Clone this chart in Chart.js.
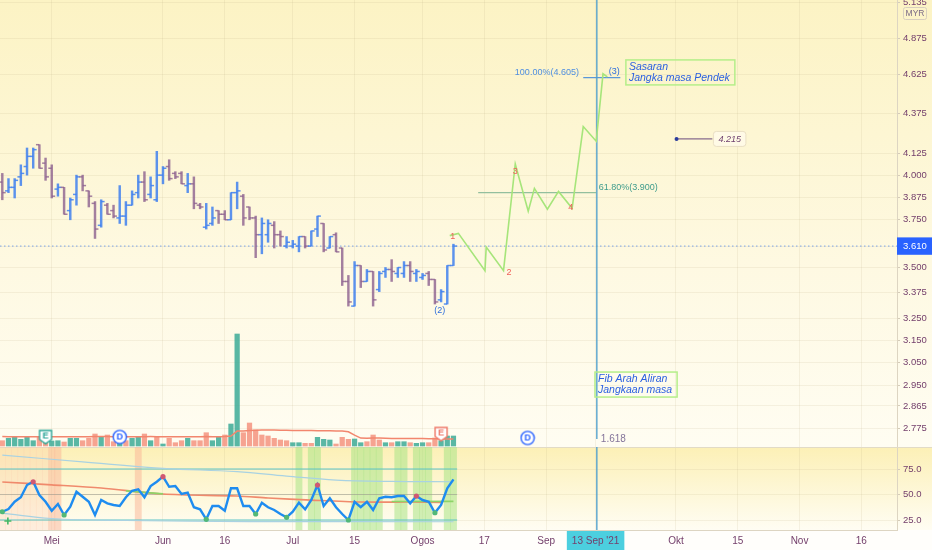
<!DOCTYPE html>
<html><head><meta charset="utf-8">
<script src="https://cdn.jsdelivr.net/npm/chart.js@4/dist/chart.umd.min.js"></script>
<style>html,body{margin:0;padding:0;background:#fff;overflow:hidden}#wrap{width:932px;height:550px}</style>
</head><body><div id="wrap"><canvas id="c" width="932" height="550"></canvas></div>
<script>
// ---------- DATA ----------
const tickIdx = [8, 26, 36, 47, 57, 68, 78, 88, 96, 109, 119, 129, 139];
const tickLabels = ['Mei', 'Jun', '16', 'Jul', '15', 'Ogos', '17', 'Sep', "13 Sep '21", 'Okt', '15', 'Nov', '16'];
const priceTicks = [5.135, 4.875, 4.625, 4.375, 4.125, 4.000, 3.875, 3.750, 3.610, 3.500, 3.375, 3.250, 3.150, 3.050, 2.950, 2.865, 2.775];
const rsiTicks = [25, 50, 75];
const lastPrice = 3.61;

const opens = [3.96,3.91,3.93,3.99,4.05,4.11,4.18,4.07,4.04,3.92,
  3.93,3.80,3.89,3.99,3.91,3.84,3.72,3.83,3.80,3.76,
  3.77,3.83,3.90,3.96,3.89,3.86,4.00,4.05,4.01,4.01,
  3.94,3.95,3.83,3.71,3.73,3.80,3.78,3.75,3.90,3.88,
  3.82,3.76,3.67,3.67,3.72,3.67,3.61,3.61,3.61,3.66,
  3.61,3.70,3.73,3.60,3.67,3.60,3.43,3.31,3.51,3.43,
  3.48,3.39,3.48,3.49,3.47,3.47,3.51,3.47,3.45,3.47,
  3.44,3.34,3.32,3.51];
const highs = [4.01,3.98,3.98,4.06,4.16,4.16,4.18,4.10,4.06,3.95,
  3.93,3.87,4.00,4.00,3.91,3.85,3.86,3.84,3.83,3.94,
  3.85,3.91,4.00,4.02,3.99,4.14,4.05,4.09,4.02,4.02,
  4.01,3.99,3.84,3.84,3.82,3.80,3.80,3.90,3.96,3.89,
  3.82,3.77,3.76,3.75,3.74,3.69,3.66,3.64,3.66,3.66,
  3.69,3.77,3.73,3.66,3.68,3.60,3.46,3.53,3.51,3.49,
  3.48,3.48,3.50,3.54,3.50,3.53,3.53,3.49,3.47,3.48,
  3.44,3.39,3.51,3.62];
const lows = [3.86,3.90,3.87,3.94,4.00,4.04,4.04,3.97,3.87,3.88,
  3.78,3.75,3.83,3.91,3.82,3.65,3.71,3.78,3.76,3.73,
  3.72,3.83,3.87,3.85,3.87,3.85,3.95,3.97,3.98,3.95,
  3.90,3.81,3.81,3.70,3.72,3.73,3.75,3.75,3.81,3.72,
  3.75,3.55,3.57,3.63,3.60,3.61,3.60,3.60,3.58,3.60,
  3.61,3.66,3.58,3.60,3.58,3.41,3.31,3.31,3.40,3.43,
  3.31,3.38,3.45,3.43,3.45,3.45,3.43,3.43,3.44,3.41,
  3.32,3.33,3.32,3.51];
const closes = [3.90,3.93,3.97,4.01,4.11,4.15,4.04,3.99,3.88,3.93,
  3.78,3.86,3.99,3.94,3.88,3.70,3.85,3.78,3.77,3.77,
  3.83,3.89,3.96,3.86,3.94,4.00,4.04,3.98,3.99,3.95,
  3.95,3.84,3.82,3.72,3.76,3.78,3.75,3.90,3.91,3.76,
  3.76,3.67,3.73,3.73,3.67,3.66,3.63,3.62,3.66,3.61,
  3.69,3.77,3.59,3.66,3.58,3.43,3.33,3.51,3.43,3.48,
  3.34,3.47,3.49,3.48,3.50,3.51,3.48,3.48,3.46,3.44,
  3.33,3.38,3.51,3.61];

const volumes = [530,770,870,670,870,530,930,600,500,530,
  400,770,770,530,770,1200,870,1100,430,500,
  530,770,870,1200,530,930,200,770,330,530,
  770,530,530,1330,530,870,1100,2200,11200,1330,
  2300,1600,1100,1000,770,600,530,330,330,270,
  270,870,670,600,200,870,670,700,330,430,
  1100,600,330,330,430,430,330,270,330,330,
  800,530,1000,1000];
const volUp = [0,1,1,1,1,1,0,0,1,1,
  0,1,1,0,0,0,1,0,0,1,
  0,1,1,0,1,0,1,0,0,0,
  1,0,0,0,1,1,0,1,1,0,
  0,0,0,0,0,0,0,1,1,0,
  0,1,1,1,0,0,0,1,1,0,
  0,0,1,0,1,1,0,1,1,0,
  0,1,1,1];
const volMA = [940,935,930,930,925,930,935,930,925,920,
  925,930,930,935,930,940,945,940,935,930,
  930,925,930,935,940,935,930,925,920,925,
  930,935,930,940,935,930,945,1000,1490,1500,
  1560,1580,1590,1590,1590,1580,1570,1560,1550,1540,
  1540,1530,1520,1520,1510,1500,1420,1080,790,780,
  800,790,770,760,760,750,750,740,740,730,
  720,700,690,700];

const rsi = [33.1,35.8,42.9,47.3,59.3,62.5,49.5,42.9,34.1,40.7,
  29.9,38.0,52.7,47.8,42.9,29.9,44.6,41.4,39.7,38.7,
  47.3,53.7,55.1,47.3,58.3,62.5,67.5,57.6,58.3,50.5,
  51.8,37.5,35.5,25.7,38.7,38.7,34.1,56.1,56.1,38.7,
  38.7,30.9,42.0,37.5,34.8,30.9,27.6,33.1,42.0,35.5,
  44.6,59.3,38.7,46.3,37.5,30.9,25.0,42.9,37.5,42.9,
  34.8,46.3,47.8,47.3,48.5,48.5,41.4,48.5,44.6,42.9,
  32.1,39.7,56.1,64.9];
const rsiPeaks = [5, 26, 51, 67];
const rsiTroughs = [0, 10, 33, 41, 46, 56, 70];
const rsiMAk = [0, 8, 16, 26, 38, 43, 50, 58, 66, 71];
const rsiMAv = [62.3, 59.5, 56.4, 50.5, 48.5, 46.6, 44.5, 42.6, 42.6, 42.3];
const rsiMAupK = [20, 26];
const rsiMAupV = [53.6, 50.6];
const rsiMAup2K = [63, 73];
const rsiMAup2V = [43.1, 43.3];
const bandUpK = [0, 13, 26, 38, 46, 54, 63, 73];
const bandUpV = [88.7, 82.0, 75.7, 72.4, 68.0, 64.2, 62.8, 62.5];
const bandLoK = [0, 8, 20, 40, 73];
const bandLoV = [31.8, 26.5, 24.5, 23.5, 23.3];
const paleZones = [0, 1, 2, 3, 4, 5, 6, 7];
const orangeZones = [8, 9, 22];
const greenZones = [48, 50, 51, 57, 58, 59, 60, 61, 64, 65, 67, 68, 69, 72, 73];

const waveK = [72.4, 73.8, 78.1, 78.3, 81.1, 83.0, 85.1, 86.1, 88.2, 90.0, 92.2, 94.0, 96.1, 97.2, 97.9];
const waveP = [3.665, 3.677, 3.484, 3.605, 3.484, 4.065, 3.797, 3.924, 3.808, 3.907, 3.813, 4.291, 4.201, 4.631, 4.610];
const waveLabelText = ['1', '2', '3', '4', '(2)', '(3)'];
const waveLabelK = [72.9, 82.0, 83.0, 92.0, 70.8, 99.0];
const waveLabelP = [3.660, 3.477, 4.019, 3.819, 3.290, 4.645];

const fibRatios = ['100.00%', '61.80%'];
const fibPrices = [4.605, 3.900];
const fibFromK = [94.0, 77.0];
const fibToK = [100.0, 96.1];
const fibLabelK = [93.3, 96.5];
const fibTimeK = 96.2;
const fibTimeLabel = '1.618';

const targetPrice = 4.215;
const targetK = [109.1, 114.9];

const noteLines = [['Sasaran', 'Jangka masa Pendek'], ['Fib Arah Aliran', 'Jangkaan masa']];
const noteK = [100.9, 95.9];
const noteP = [4.725, 3.009];

const eventType = ['E', 'D', 'E', 'D'];
const eventK = [7, 19, 71, 85];
const eventColor = ['#2aa597', '#2962ff', '#ee7766', '#2962ff'];

// ---------- SCALE FRAME ----------
const X_MIN = -0.372, X_MAX = 144.77;
const P_MIN = 2.7318, P_MAX = 5.1525;
const R_MIN = 15.2, R_MAX = 96.6;
const V_MIN = -8400, V_MAX = 44600;
const eventLevel = [900, 900, 1200, 800];

const FONT = '"Liberation Sans", Arial, sans-serif';
Chart.defaults.font.family = FONT;
const TXT = '#74406c';
const upColor = 'rgba(64,128,238,0.85)', dnColor = 'rgba(140,96,142,0.8)';
const ix = closes.map((_, i) => i);
const barCol = ix.map(i => closes[i] >= opens[i] ? upColor : dnColor);

function icon(letter, color) {
  const c = document.createElement('canvas'); c.width = 16; c.height = 17;
  const g = c.getContext('2d');
  g.fillStyle = '#ffffff'; g.strokeStyle = color; g.lineWidth = 1.4;
  g.beginPath();
  if (letter === 'D') g.arc(8, 8.5, 6.6, 0, Math.PI * 2);
  else { g.moveTo(2, 2); g.lineTo(14, 2); g.lineTo(14, 11); g.lineTo(8, 15.3); g.lineTo(2, 11); g.closePath(); }
  g.fill(); g.stroke();
  g.fillStyle = color; g.font = 'bold 9px ' + FONT; g.textAlign = 'center'; g.textBaseline = 'middle';
  g.fillText(letter, 8, letter === 'D' ? 9 : 8);
  return c;
}
const eventIcons = eventType.map((t, i) => icon(t, eventColor[i]));

const line = (data, color, width, axis, order, extra) => Object.assign({
  type: 'line', yAxisID: axis, data, borderColor: color, borderWidth: width,
  pointRadius: 0, fill: false, tension: 0, order
}, extra || {});
const pts = (ks, vs) => ks.map((k, i) => ({x: k, y: vs[i]}));
const zone = (list, color) => ({
  type: 'bar', yAxisID: 'yr', data: list.map(k => ({x: k, y: [R_MIN, R_MAX]})),
  backgroundColor: color, barThickness: 6.2, grouped: false, borderWidth: 0, order: 100
});

const datasets = [
  zone(paleZones, 'rgba(250,196,170,0.28)'),
  zone(orangeZones, 'rgba(250,180,150,0.5)'),
  zone(greenZones, 'rgba(170,228,135,0.55)'),
  // volume
  {type: 'bar', yAxisID: 'yv', data: ix.map(i => ({x: i, y: volumes[i]})),
   backgroundColor: ix.map(i => volUp[i] ? 'rgba(60,170,150,0.85)' : 'rgba(244,140,120,0.8)'),
   barThickness: 4.6, grouped: false, borderWidth: 0, order: 90},
  line(ix.map(i => ({x: i, y: volMA[i]})), '#f2866e', 1.5, 'yv', 85),
  // last price dotted
  line([{x: X_MIN, y: lastPrice}, {x: X_MAX, y: lastPrice}], 'rgba(70,130,240,0.7)', 1, 'y', 40, {borderDash: [1.5, 2.5]}),
  // OHLC
  {type: 'bar', yAxisID: 'y', data: ix.map(i => ({x: i, y: [lows[i], highs[i]]})),
   backgroundColor: barCol, barThickness: 1.8, grouped: false, borderWidth: 0, order: 20},
  {type: 'scatter', yAxisID: 'y', data: ix.map(i => ({x: i - 0.28, y: opens[i]})),
   pointStyle: 'line', pointRadius: 1.7, pointBorderWidth: 1.5, pointBorderColor: barCol, borderColor: barCol, order: 19},
  {type: 'scatter', yAxisID: 'y', data: ix.map(i => ({x: i + 0.28, y: closes[i]})),
   pointStyle: 'line', pointRadius: 1.7, pointBorderWidth: 1.5, pointBorderColor: barCol, borderColor: barCol, order: 19},
  // fib
  line([{x: fibFromK[1], y: fibPrices[1]}, {x: fibToK[1], y: fibPrices[1]}], '#93bf9e', 1.3, 'y', 30),
  line([{x: fibFromK[0], y: fibPrices[0]}, {x: fibToK[0], y: fibPrices[0]}], '#5b98d8', 1.3, 'y', 30),
  line([{x: fibTimeK, y: P_MIN}, {x: fibTimeK, y: P_MAX}], 'rgba(80,160,205,0.9)', 1.5, 'y', 8),
  line([{x: fibTimeK, y: R_MIN}, {x: fibTimeK, y: R_MAX}], 'rgba(80,160,205,0.9)', 1.5, 'yr', 8),
  // wave projection
  line(pts(waveK, waveP), '#a6e57a', 1.6, 'y', 6),
  // target level
  line([{x: targetK[0], y: targetPrice}, {x: targetK[1], y: targetPrice}], '#6a4a7c', 1, 'y', 6,
       {pointRadius: [2, 0], pointBackgroundColor: '#2b3c9c', pointBorderWidth: 0}),
  // RSI panel
  line([{x: X_MIN, y: 75}, {x: 73.6, y: 75}], '#5cc4c6', 1, 'yr', 60),
  line([{x: X_MIN, y: 25}, {x: 73.6, y: 25}], '#5cc4c6', 1, 'yr', 60),
  line([{x: X_MIN, y: 50}, {x: 73.6, y: 50}], 'rgba(150,150,140,0.55)', 1, 'yr', 60),
  line(pts(bandUpK, bandUpV), '#a9d2e2', 1.2, 'yr', 55, {tension: 0.4}),
  line(pts(bandLoK, bandLoV), '#a9d2e2', 1.2, 'yr', 55, {tension: 0.4}),
  line(pts(rsiMAk, rsiMAv), '#f08a6c', 1.6, 'yr', 50, {tension: 0.3}),
  line(pts(rsiMAupK, rsiMAupV), '#8ed468', 1.6, 'yr', 49),
  line(pts(rsiMAup2K, rsiMAup2V), '#8ed468', 1.6, 'yr', 49),
  line(ix.map(i => ({x: i, y: rsi[i]})), '#1e8cf0', 2.4, 'yr', 10),
  {type: 'scatter', yAxisID: 'yr', data: rsiPeaks.map(k => ({x: k, y: rsi[k]})),
   pointRadius: 2.6, pointBackgroundColor: '#d05872', pointBorderWidth: 0, order: 5},
  {type: 'scatter', yAxisID: 'yr', data: rsiTroughs.map(k => ({x: k, y: rsi[k]})),
   pointRadius: 2.6, pointBackgroundColor: '#52b878', pointBorderWidth: 0, order: 5},
  {type: 'scatter', yAxisID: 'yr', data: [{x: 0.9, y: 24}], pointStyle: 'cross',
   pointRadius: 3.5, pointBorderColor: '#44b866', pointBorderWidth: 1.6, order: 5},
  // events
  {type: 'scatter', yAxisID: 'yv', data: eventK.map((k, i) => ({x: k, y: eventLevel[i]})),
   pointStyle: eventIcons, pointRadius: 8, order: 1}
];

// ---------- PLUGINS ----------
const bgPlugin = {
  id: 'bg',
  beforeDraw(chart) {
    const {ctx, width, height} = chart;
    const yP = chart.scales.y, yR = chart.scales.yr;
    ctx.save();
    let g = ctx.createLinearGradient(0, yP.top, 0, yP.bottom);
    g.addColorStop(0, '#fcf3c4'); g.addColorStop(0.6, '#fef9e2'); g.addColorStop(1, '#fffdf2');
    ctx.fillStyle = g; ctx.fillRect(0, 0, width, yP.bottom);
    g = ctx.createLinearGradient(0, yR.top, 0, yR.bottom);
    g.addColorStop(0, '#fcf0b6'); g.addColorStop(1, '#fffdf3');
    ctx.fillStyle = g; ctx.fillRect(0, yR.top, width, yR.bottom - yR.top);
    ctx.fillStyle = '#fffefb'; ctx.fillRect(0, yR.bottom, width, height - yR.bottom);
    ctx.restore();
  },
  beforeDatasetsDraw(chart) {
    const {ctx, width} = chart; const yP = chart.scales.y;
    ctx.save(); ctx.strokeStyle = '#e2dbc6'; ctx.lineWidth = 1;
    ctx.beginPath(); ctx.moveTo(0, Math.round(yP.bottom) + 0.5); ctx.lineTo(width, Math.round(yP.bottom) + 0.5); ctx.stroke();
    ctx.restore();
  }
};

const annotate = {
  id: 'annotate',
  afterDatasetsDraw(chart) {
    const {ctx} = chart; const sx = chart.scales.x, sy = chart.scales.y;
    const X = k => sx.getPixelForValue(k), Y = p => sy.getPixelForValue(p);
    ctx.save();
    ctx.textBaseline = 'middle';
    ctx.textAlign = 'center';
    ctx.font = '9px ' + FONT;
    waveLabelText.forEach((t, i) => {
      ctx.fillStyle = t.startsWith('(') ? '#2f6fdc' : '#f0605a';
      ctx.fillText(t, X(waveLabelK[i]), Y(waveLabelP[i]));
    });
    ctx.textAlign = 'right'; ctx.fillStyle = '#4f8fe0';
    ctx.fillText(fibRatios[0] + '(' + fibPrices[0].toFixed(3) + ')', X(fibLabelK[0]), Y(fibPrices[0]) - 5);
    ctx.textAlign = 'left'; ctx.fillStyle = '#3f9c8c';
    ctx.fillText(fibRatios[1] + '(' + fibPrices[1].toFixed(3) + ')', X(fibLabelK[1]), Y(fibPrices[1]) - 5);
    ctx.fillStyle = '#84749a'; ctx.font = '10px ' + FONT;
    ctx.fillText(fibTimeLabel, X(fibTimeK) + 4, sy.bottom - 8);
    // notes
    noteLines.forEach((lines, n) => {
      const x0 = X(noteK[n]), y0 = Y(noteP[n]);
      ctx.font = 'italic 10.5px ' + FONT;
      const w = Math.max(...lines.map(l => ctx.measureText(l).width)) + 8;
      const h = lines.length * 11 + 3;
      ctx.strokeStyle = '#b5ee8a'; ctx.lineWidth = 1.5; ctx.strokeRect(x0, y0, w, h);
      ctx.fillStyle = '#2a5fe0'; ctx.textAlign = 'left';
      lines.forEach((l, i) => ctx.fillText(l, x0 + 3, y0 + 7.5 + i * 11));
    });
    // target label
    ctx.font = 'italic 9px ' + FONT;
    const tt = targetPrice.toFixed(3);
    const tw = ctx.measureText(tt).width + 10;
    const tx = X(targetK[1]) + 1, ty = Y(targetPrice);
    ctx.fillStyle = '#fffae6'; ctx.strokeStyle = '#eadfc4'; ctx.lineWidth = 1;
    ctx.beginPath(); ctx.roundRect(tx, ty - 7.5, tw, 15, 3); ctx.fill(); ctx.stroke();
    ctx.fillStyle = '#6e3f6e'; ctx.textAlign = 'left';
    ctx.fillText(tt, tx + 5, ty + 0.5);
    ctx.restore();
  },
  afterDraw(chart) {
    const {ctx} = chart; const sx = chart.scales.x;
    ctx.save();
    const x0 = sx.right + 6, y0 = 7;
    ctx.fillStyle = '#fcf4c8'; ctx.strokeStyle = '#d8cfbe'; ctx.lineWidth = 1;
    ctx.beginPath(); ctx.roundRect(x0 + 0.5, y0 + 0.5, 23, 12, 2); ctx.fill(); ctx.stroke();
    ctx.fillStyle = '#7a6a85'; ctx.font = '8.5px ' + FONT; ctx.textAlign = 'center'; ctx.textBaseline = 'middle';
    ctx.fillText('MYR', x0 + 12, y0 + 7);
    ctx.restore();
  }
};

const zeroPad = s => { s.paddingTop = 0; s.paddingBottom = 0; s.paddingLeft = 0; s.paddingRight = 0; };
const GRID = 'rgba(185,172,130,0.14)';

new Chart(document.getElementById('c'), {
  type: 'line',
  data: {datasets},
  plugins: [bgPlugin, annotate],
  options: {
    responsive: false, animation: false, events: [],
    layout: {padding: 0, autoPadding: false},
    plugins: {legend: {display: false}, tooltip: {enabled: false}},
    scales: {
      x: {
        type: 'linear', position: 'bottom', min: X_MIN, max: X_MAX, offset: false,
        grid: {color: GRID, offset: false, drawTicks: false},
        border: {color: '#ddd5c2'},
        afterBuildTicks: s => { s.ticks = tickIdx.map(v => ({value: v})); },
        afterFit: s => { s.height = 20; zeroPad(s); },
        ticks: {
          autoSkip: false, maxRotation: 0, padding: 5, color: TXT, font: {size: 10},
          callback: (v, i) => tickLabels[i],
          showLabelBackdrop: c => tickLabels[c.index] === "13 Sep '21",
          backdropColor: '#4ccfdf',
          backdropPadding: {left: 5, right: 5, top: 4, bottom: 6}
        }
      },
      y: {
        type: 'logarithmic', position: 'right', stack: 'r', stackWeight: 447,
        min: P_MIN, max: P_MAX, beginAtZero: false,
        grid: {color: GRID, tickLength: 3, tickColor: '#d5ccb8'},
        border: {color: '#ddd5c2'},
        afterBuildTicks: s => { s.ticks = priceTicks.map(v => ({value: v})); },
        afterFit: s => { s.width = 35; zeroPad(s); },
        ticks: {
          autoSkip: false, padding: 3, font: {size: 9.5},
          color: c => (c.tick && c.tick.value === lastPrice) ? '#ffffff' : TXT,
          callback: v => Number(v).toFixed(3),
          showLabelBackdrop: c => !!(c.tick && c.tick.value === lastPrice),
          backdropColor: '#2962ff',
          backdropPadding: {left: 6, right: 8, top: 3, bottom: 3}
        }
      },
      yr: {
        type: 'linear', position: 'right', stack: 'r', stackWeight: 83,
        min: R_MIN, max: R_MAX, beginAtZero: false,
        grid: {color: GRID, tickLength: 3, tickColor: '#d5ccb8'},
        border: {color: '#ddd5c2'},
        afterBuildTicks: s => { s.ticks = rsiTicks.map(v => ({value: v})); },
        afterFit: s => { s.width = 35; zeroPad(s); },
        ticks: {autoSkip: false, padding: 3, color: TXT, font: {size: 9.5}, callback: v => Number(v).toFixed(1)}
      },
      yv: {type: 'linear', position: 'right', display: false, min: V_MIN, max: V_MAX, beginAtZero: false}
    }
  }
});
</script></body></html>
